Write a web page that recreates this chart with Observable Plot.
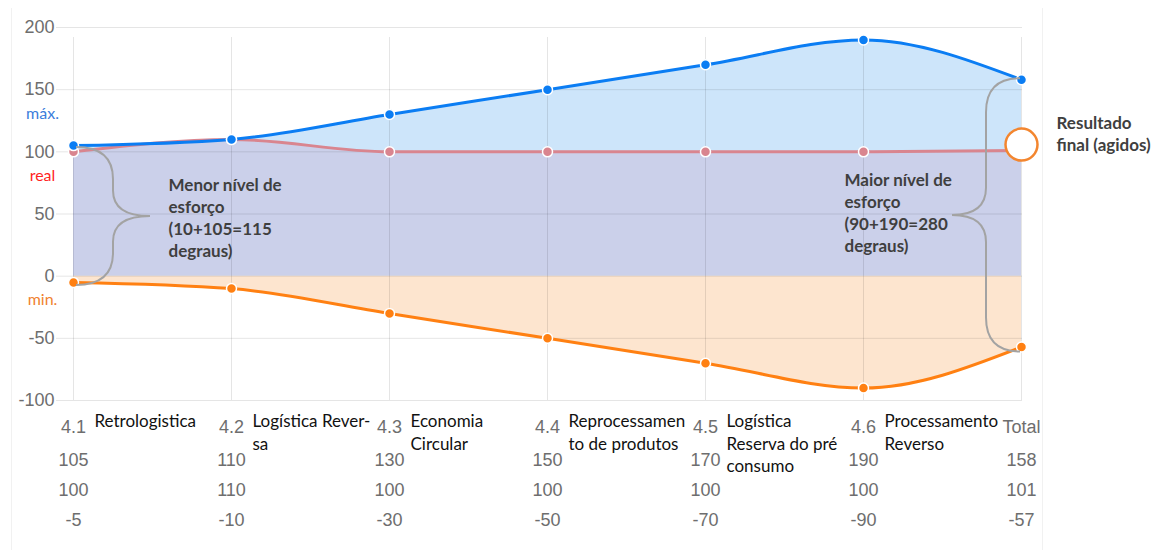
<!DOCTYPE html>
<html>
<head>
<meta charset="utf-8">
<script src="https://cdn.jsdelivr.net/npm/d3@7"></script>
<script src="https://cdn.jsdelivr.net/npm/@observablehq/plot@0.6"></script>
<style>
  body { margin: 0; background: #fff; }
  #wrap { position: relative; width: 1156px; height: 550px; overflow: hidden; }
  #wrap .edge { position: absolute; top: 8px; bottom: 0; left: 11px; width: 1030px;
    border-left: 1px solid #f1f1f1; border-right: 1px solid #f1f1f1; pointer-events: none; }
  #wrap svg { position: absolute; left: 0; top: 0; }
</style>
</head>
<body>
<div id="wrap"><div class="edge"></div></div>
<script>
// Stages of the reverse-logistics ladder and their effort levels
const categories = ["4.1", "4.2", "4.3", "4.4", "4.5", "4.6", "Total"];
const stageNames = [
  "Retrologistica",
  "Logística Rever-\nsa",
  "Economia\nCircular",
  "Reprocessamen\nto de produtos",
  "Logística\nReserva do pré\nconsumo",
  "Processamento\nReverso",
  ""
];
const maxValues  = [105, 110, 130, 150, 170, 190, 158];
const realValues = [100, 110, 100, 100, 100, 100, 101];
const minValues  = [-5, -10, -30, -50, -70, -90, -57];
const yTicks = [-100, -50, 0, 50, 100, 150, 200];

// Series names shown beside the y axis, each under a tick
const seriesLabels = ["máx.", "real", "min."];
const seriesTicks = [150, 100, 0];
const seriesColors = ["#3b7ddb", "#ff1f1f", "#f0822f"];

const data = categories.map((cat, i) => ({
  cat, name: stageNames[i], max: maxValues[i], real: realValues[i], min: minValues[i]
}));
const legend = seriesLabels.map((label, i) => ({label, tick: seriesTicks[i], color: seriesColors[i]}));

const C = {
  max: "#0b7df3", real: "#d9858f", min: "#ff8012",
  fillMax: "#cde5fa", fillReal: "#cbd0ea", fillMin: "#fde5cf",
  tick: "#6e6e6e", note: "#3f3f3f", brace: "#a3a3a3"
};
const curve = "monotone-x";
const tickFont = "Liberation Sans, Arial, sans-serif";
const noteFont = "Lato, Open Sans, sans-serif";

const first = data[0];
const peak = data[5];
const last = data[data.length - 1];

const chart = Plot.plot({
  width: 1156,
  height: 550,
  marginLeft: 56,
  marginRight: 134,
  marginTop: 27,
  marginBottom: 140,
  style: {background: "transparent", fontFamily: tickFont, overflow: "visible"},
  x: {type: "point", domain: categories, range: [72, 1022], padding: 0, axis: null},
  y: {domain: [-100, 200], range: [400, 27], axis: null},
  marks: [
    // fills from zero to each series
    Plot.areaY(data, {x: "cat", y1: 0, y2: "max", curve, fill: C.fillMax}),
    Plot.areaY(data, {x: "cat", y1: 0, y2: "real", curve, fill: C.fillReal}),
    Plot.areaY(data, {x: "cat", y1: 0, y2: "min", curve, fill: C.fillMin}),
    // grid (extends a little past the frame to form the ticks)
    Plot.ruleY(yTicks, {stroke: "#000", strokeOpacity: 0.1}),
    Plot.ruleX(categories, {stroke: "#000", strokeOpacity: 0.1, y1: -100, y2: 200, insetBottom: -10}),
    // series lines
    Plot.lineY(data, {x: "cat", y: "real", curve, stroke: C.real, strokeWidth: 3}),
    Plot.lineY(data, {x: "cat", y: "max", curve, stroke: C.max, strokeWidth: 3}),
    Plot.lineY(data, {x: "cat", y: "min", curve, stroke: C.min, strokeWidth: 3}),
    Plot.dot(data, {x: "cat", y: "real", r: 5, fill: C.real, stroke: "white", strokeWidth: 1.5}),
    Plot.dot(data, {x: "cat", y: "max", r: 5, fill: C.max, stroke: "white", strokeWidth: 1.5}),
    Plot.dot(data, {x: "cat", y: "min", r: 5, fill: C.min, stroke: "white", strokeWidth: 1.5}),
    // y tick labels
    Plot.text(yTicks, {y: d => d, text: d => String(d), frameAnchor: "left", textAnchor: "end",
      dx: -2, fill: C.tick, fontSize: 18, fontFamily: tickFont}),
    // series names by the y axis
    Plot.text(legend, {y: "tick", text: "label", fill: "color", frameAnchor: "left", textAnchor: "middle",
      dx: -14, dy: 24, fontSize: 16, fontFamily: noteFont}),
    // x tick labels and the value rows beneath them
    Plot.text(data, {x: "cat", text: "cat", frameAnchor: "bottom", lineAnchor: "middle", dy: 17,
      fill: C.tick, fontSize: 18, fontFamily: tickFont}),
    Plot.text(data, {x: "cat", text: d => String(d.max), frameAnchor: "bottom", lineAnchor: "middle", dy: 50,
      fill: C.tick, fontSize: 18, fontFamily: tickFont}),
    Plot.text(data, {x: "cat", text: d => String(d.real), frameAnchor: "bottom", lineAnchor: "middle", dy: 80,
      fill: C.tick, fontSize: 18, fontFamily: tickFont}),
    Plot.text(data, {x: "cat", text: d => String(d.min), frameAnchor: "bottom", lineAnchor: "middle", dy: 110,
      fill: C.tick, fontSize: 18, fontFamily: tickFont}),
    // stage names to the right of each tick
    Plot.text(data, {x: "cat", text: "name", frameAnchor: "bottom", lineAnchor: "top", textAnchor: "start",
      dx: 21, dy: 1, lineHeight: 1.32, fill: "#111", fontSize: 17, fontFamily: noteFont}),
    // notes
    Plot.text([first], {x: "cat", y: d => (d.max + d.min) / 2, text: () => "Menor nível de\nesforço\n(10+105=115\ndegraus)",
      textAnchor: "start", lineAnchor: "middle", dx: 95, dy: 3, lineHeight: 1.3,
      fill: C.note, fontWeight: "bold", fontSize: 17, fontFamily: noteFont}),
    Plot.text([peak], {x: "cat", y: d => (d.max + d.min) / 2, text: () => "Maior nível de\nesforço\n(90+190=280\ndegraus)",
      textAnchor: "start", lineAnchor: "middle", dx: -19, dy: -2, lineHeight: 1.3,
      fill: C.note, fontWeight: "bold", fontSize: 17, fontFamily: noteFont}),
    Plot.dot([last], {x: "cat", y: "real", r: 16, dy: -6, fill: "white", stroke: "#f3862f", strokeWidth: 2.5}),
    Plot.text([last], {x: "cat", y: "real", text: () => "Resultado\nfinal (agidos)",
      textAnchor: "start", lineAnchor: "middle", dx: 35, dy: -18, lineHeight: 1.3,
      fill: C.note, fontWeight: "bold", fontSize: 17, fontFamily: noteFont})
  ]
});

// Curly braces spanning min..max at the first and last stage
const xs = chart.scale("x"), ys = chart.scale("y");
function bracePath(x0, yTop, yBot, w, r) {
  const xm = x0 + w / 2, xt = x0 + w, ym = (yTop + yBot) / 2, rt = r * 0.8;
  return `M${x0},${yTop} Q${xm},${yTop} ${xm},${yTop + r} ` +
         `L${xm},${ym - rt} Q${xm},${ym} ${xt},${ym} ` +
         `Q${xm},${ym} ${xm},${ym + rt} ` +
         `L${xm},${yBot - r} Q${xm},${yBot} ${x0},${yBot}`;
}
const braceLayer = d3.select(chart).append("g").attr("aria-label", "braces")
  .attr("fill", "none").attr("stroke", C.brace).attr("stroke-width", 2);
braceLayer.append("path")
  .attr("d", bracePath(xs.apply(first.cat) + 3, ys.apply(first.max) + 2, ys.apply(first.min) + 3, 74, 32));
braceLayer.append("path")
  .attr("d", bracePath(xs.apply(last.cat) - 1, ys.apply(last.max) - 1, ys.apply(last.min) + 5, -68, 34));

document.getElementById("wrap").appendChild(chart);
</script>
</body>
</html>
